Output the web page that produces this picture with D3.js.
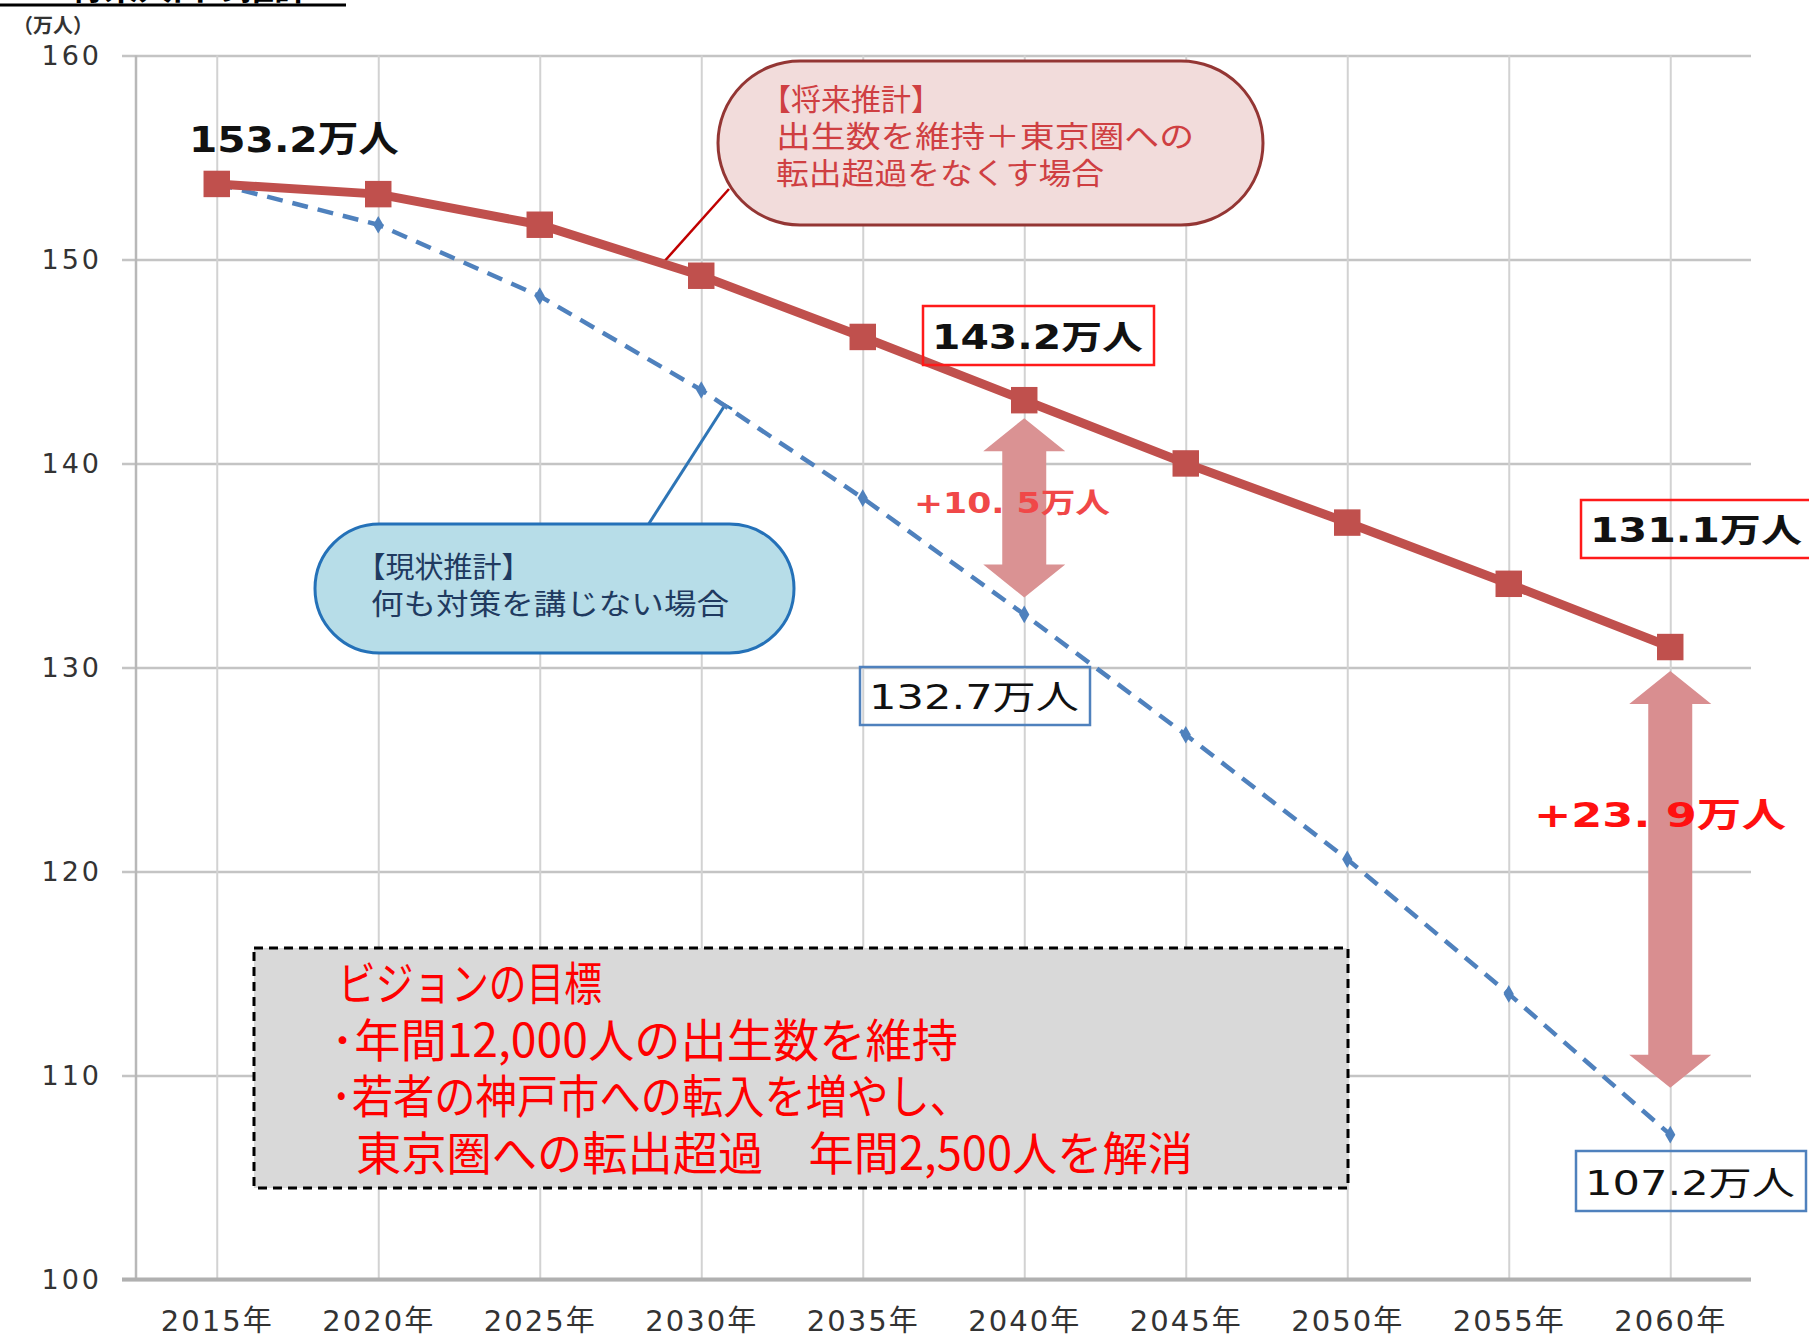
<!DOCTYPE html>
<html>
<head>
<meta charset="utf-8">
<script src="https://cdn.jsdelivr.net/npm/d3@7"></script>
<style>
  body { margin: 0; background: #fff; }
  svg { display: block; }
</style>
</head>
<body>
<svg id="chart" width="1809" height="1338"></svg>
<script>
// values (万人)
const years = [2015, 2020, 2025, 2030, 2035, 2040, 2045, 2050, 2055, 2060];
const futureVals = [153.7, 153.2, 151.7, 149.2, 146.2, 143.1, 140.0, 137.1, 134.1, 131.0];
const currentVals = [153.7, 151.7, 148.2, 143.6, 138.3, 132.6, 126.7, 120.6, 114.0, 107.1];
const yTicks = [100, 110, 120, 130, 140, 150, 160];
const xLabels = years.map(d => d + "年");

const futureBubble = ["【将来推計】", "出生数を維持＋東京圏への", "転出超過をなくす場合"];
const currentBubble = ["【現状推計】", "何も対策を講じない場合"];
const goalLines = ["ビジョンの目標", "･年間12,000人の出生数を維持", "･若者の神戸市への転入を増やし、", "東京圏への転出超過　年間2,500人を解消"];

const svg = d3.select("#chart");
const x = d3.scalePoint().domain(years).range([136, 1751]).padding(0.5);
const y = d3.scaleLinear().domain([100, 160]).range([1279.5, 55.4]);
const numFont = "'DejaVu Sans', 'Noto Sans CJK JP', sans-serif";
const jpFont = "'Noto Sans CJK JP', sans-serif";

// heading, mostly cut off by the top edge as in the original
svg.append("text").attr("x", 2).attr("y", 0)
  .attr("font-family", jpFont).attr("font-size", 34).attr("font-weight", 700)
  .text("２．将来人口の推計");
svg.append("line").attr("x1", 0).attr("x2", 346).attr("y1", 5).attr("y2", 5)
  .attr("stroke", "#000").attr("stroke-width", 3);

// unit
svg.append("text").attr("x", 13).attr("y", 33)
  .attr("font-family", jpFont).attr("font-size", 20).attr("font-weight", 700)
  .attr("fill", "#333").text("（万人）");

// horizontal grid + y labels
svg.append("g").attr("transform", "translate(122,0)")
  .call(d3.axisLeft(y).tickValues(yTicks).tickSize(-(1751 - 122)).tickPadding(20))
  .call(g => g.select(".domain").remove())
  .call(g => g.selectAll(".tick line").attr("stroke", "#c4c4c4").attr("stroke-width", 2.5))
  .call(g => g.selectAll(".tick text").attr("font-family", numFont).attr("font-size", 27)
    .attr("letter-spacing", 3).attr("fill", "#333"));

// vertical grid + x labels
svg.append("g").attr("transform", "translate(0," + y(100) + ")")
  .call(d3.axisBottom(x).tickFormat((d, i) => xLabels[i]).tickSize(-(y(100) - y(160))).tickPadding(31))
  .call(g => g.select(".domain").remove())
  .call(g => g.selectAll(".tick line").attr("stroke", "#d2d2d2").attr("stroke-width", 2))
  .call(g => g.selectAll(".tick text").attr("font-family", numFont).attr("font-size", 29)
    .attr("letter-spacing", 2).attr("fill", "#333"));

// axis lines
svg.append("line").attr("x1", 136).attr("x2", 136).attr("y1", y(160)).attr("y2", y(100))
  .attr("stroke", "#b8b8b8").attr("stroke-width", 2.5);
svg.append("line").attr("x1", 122).attr("x2", 1751).attr("y1", y(100)).attr("y2", y(100))
  .attr("stroke", "#b0b0b0").attr("stroke-width", 4);

// speech bubbles
function bubble(bx, by, bw, bh, fill, stroke, lines, color, fs, x0, base0, lh, lens) {
  svg.append("rect").attr("x", bx).attr("y", by).attr("width", bw).attr("height", bh)
    .attr("rx", bh / 2).attr("ry", bh / 2)
    .attr("fill", fill).attr("stroke", stroke).attr("stroke-width", 3);
  lines.forEach((t, i) => {
    const tx = svg.append("text").attr("x", x0 - (i === 0 ? fs * 0.5 : 0)).attr("y", base0 + i * lh)
      .attr("font-family", jpFont).attr("font-size", fs).attr("fill", color).text(t);
    if (lens[i]) tx.attr("textLength", lens[i]).attr("lengthAdjust", "spacingAndGlyphs");
  });
}
svg.append("line").attr("x1", 729).attr("y1", 189).attr("x2", 662).attr("y2", 264)
  .attr("stroke", "#c00000").attr("stroke-width", 2.5);
bubble(718, 61, 545, 164, "#f2dcdb", "#943634", futureBubble, "#cf3f42", 30, 776, 110, 37, [0, 418, 328]);

svg.append("line").attr("x1", 648).attr("y1", 525).attr("x2", 725).attr("y2", 405)
  .attr("stroke", "#2e75b6").attr("stroke-width", 3);
svg.append("line").attr("x1", 718).attr("y1", 401).attr("x2", 732).attr("y2", 409)
  .attr("stroke", "#2e75b6").attr("stroke-width", 3);
bubble(315, 524, 479, 129, "#b7dde8", "#2471b8", currentBubble, "#1f3a60", 29, 371, 578, 37, [0, 358]);

// series lines
const line = d3.line().x((d, i) => x(years[i])).y(d => y(d));
svg.append("path").datum(currentVals).attr("d", line).attr("fill", "none")
  .attr("stroke", "#4f81bd").attr("stroke-width", 4.5).attr("stroke-dasharray", "16,10");
svg.selectAll(".cur").data(currentVals).join("path").attr("class", "cur")
  .attr("transform", (d, i) => `translate(${x(years[i])},${y(d)})`)
  .attr("d", d3.symbol(d3.symbolDiamond, 90)).attr("fill", "#4f81bd");

svg.append("path").datum(futureVals).attr("d", line).attr("fill", "none")
  .attr("stroke", "#c0504d").attr("stroke-width", 9);
svg.selectAll(".fut").data(futureVals).join("path").attr("class", "fut")
  .attr("transform", (d, i) => `translate(${x(years[i])},${y(d)})`)
  .attr("d", d3.symbol(d3.symbolSquare, 700)).attr("fill", "#c0504d");

// double arrows between the scenarios
function dblArrow(cx, y1, y2, color) {
  const hw = 41, hl = 33, sw = 22;
  const p = [[cx, y1], [cx + hw, y1 + hl], [cx + sw, y1 + hl], [cx + sw, y2 - hl], [cx + hw, y2 - hl],
    [cx, y2], [cx - hw, y2 - hl], [cx - sw, y2 - hl], [cx - sw, y1 + hl], [cx - hw, y1 + hl]];
  svg.append("path").attr("d", "M" + p.join("L") + "Z").attr("fill", color);
}
dblArrow(x(2040), y(futureVals[5]) + 18, y(currentVals[5]) - 17, "#da9293");
dblArrow(x(2060), y(futureVals[9]) + 24, y(currentVals[9]) - 47, "#d98e90");

function label(tx, ty, t, fs, weight, len, color) {
  svg.append("text").attr("x", tx).attr("y", ty).attr("font-family", numFont)
    .attr("font-size", fs).attr("font-weight", weight).attr("fill", color)
    .attr("textLength", len).attr("lengthAdjust", "spacingAndGlyphs").text(t);
}
label(914, 513, "+10. 5万人", 28, 700, 196, "#f04848");
label(1534, 827, "+23. 9万人", 34, 700, 252, "#ff1010");

// value labels
function boxLabel(bx, by, bw, bh, stroke, t, weight) {
  svg.append("rect").attr("x", bx).attr("y", by).attr("width", bw).attr("height", bh)
    .attr("fill", "none").attr("stroke", stroke).attr("stroke-width", 2.5);
  label(bx + 9, by + bh - 16, t, 33, weight, bw - 20, "#111");
}
label(189, 152, "153.2万人", 36, 700, 210, "#111");
boxLabel(923, 306, 231, 59, "#ff1a1a", "143.2万人", 700);
boxLabel(1581, 500, 232, 58, "#ff1a1a", "131.1万人", 700);
boxLabel(860, 667, 230, 58, "#4f81bd", "132.7万人", 400);
boxLabel(1576, 1151, 230, 60, "#4f81bd", "107.2万人", 400);

// vision goal box
svg.append("rect").attr("x", 254).attr("y", 948).attr("width", 1094).attr("height", 240)
  .attr("fill", "#d9d9d9").attr("stroke", "#000").attr("stroke-width", 3).attr("stroke-dasharray", "9,6");
const goalX = [338, 331, 331, 356], goalY = [1000, 1057, 1113, 1170], goalLen = [264, 627, 640, 837];
goalLines.forEach((t, i) => {
  svg.append("text").attr("x", goalX[i]).attr("y", goalY[i]).attr("font-family", jpFont)
    .attr("font-size", 46).attr("fill", "#ff0000")
    .attr("textLength", goalLen[i]).attr("lengthAdjust", "spacingAndGlyphs").text(t);
});
</script>
</body>
</html>
